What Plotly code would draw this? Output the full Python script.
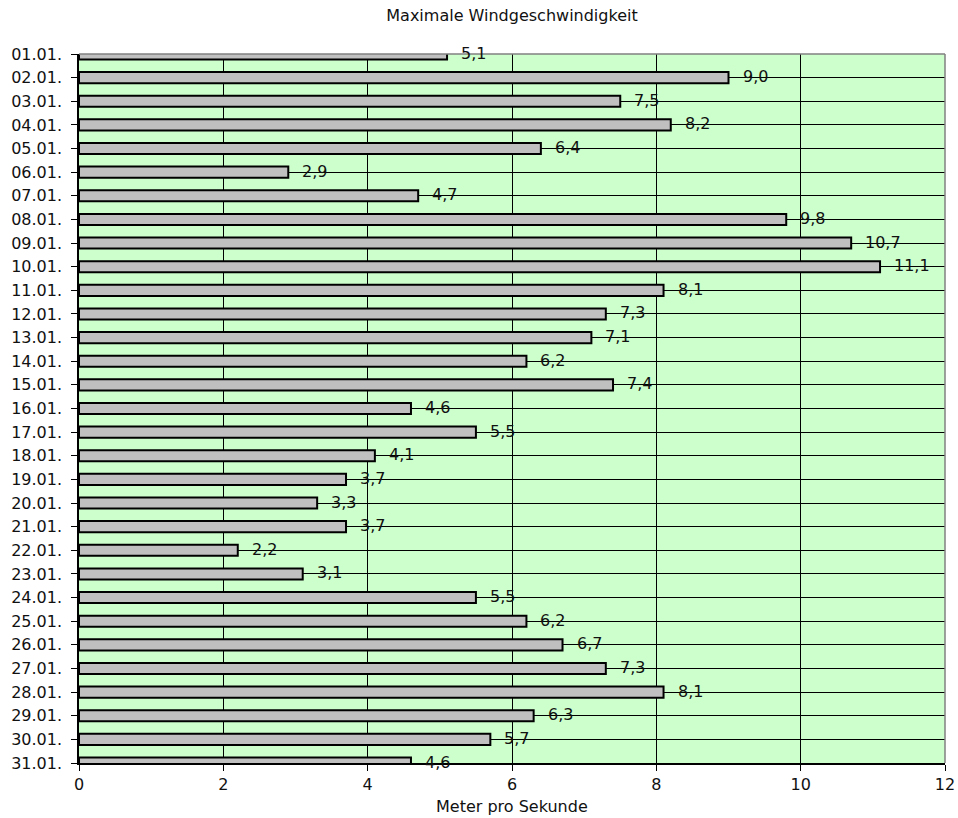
import plotly.graph_objects as go

days = [f"{d:02d}.01." for d in range(1, 32)]
speeds = [5.1, 9.0, 7.5, 8.2, 6.4, 2.9, 4.7, 9.8, 10.7, 11.1, 8.1, 7.3, 7.1, 6.2, 7.4,
          4.6, 5.5, 4.1, 3.7, 3.3, 3.7, 2.2, 3.1, 5.5, 6.2, 6.7, 7.3, 8.1, 6.3, 5.7, 4.6]
labels = [f"{v:.1f}".replace(".", ",") for v in speeds]
x_ticks = [0, 2, 4, 6, 8, 10, 12]

FONT = "DejaVu Sans"
FS = 16

fig = go.Figure()
fig.add_trace(go.Bar(
    x=speeds, y=days, orientation="h",
    marker=dict(color="#C0C0C0", line=dict(color="black", width=2)),
    width=0.47,
    hoverinfo="x+y",
))

for v, d, t in zip(speeds, days, labels):
    fig.add_annotation(x=v, y=d, text=t, showarrow=False, xanchor="left",
                       yanchor="middle", xshift=12, yshift=1,
                       font=dict(family=FONT, size=FS, color="#111111"))

fig.add_annotation(xref="paper", yref="paper", x=0.5, y=0, yshift=-43,
                   text="Meter pro Sekunde", showarrow=False, yanchor="middle",
                   font=dict(family=FONT, size=FS, color="#111111"))

# grey top and right frame
fig.add_shape(type="line", xref="paper", yref="paper", x0=0, x1=1, y0=1, y1=1,
              line=dict(color="#808080", width=1.5))
fig.add_shape(type="line", xref="paper", yref="paper", x0=1, x1=1, y0=0, y1=1,
              line=dict(color="#808080", width=1.5))

fig.update_layout(
    width=958, height=818,
    margin=dict(l=79, r=13, t=54, b=55, autoexpand=False),
    paper_bgcolor="white",
    plot_bgcolor="#CCFFCC",
    showlegend=False,
    font=dict(family=FONT, size=FS, color="#111111"),
    title=dict(text="Maximale Windgeschwindigkeit", x=0.5, xref="paper",
               y=1 - 15 / 818, yref="container", yanchor="middle", automargin=False,
               font=dict(family=FONT, size=FS, color="#111111")),
)
fig.update_xaxes(range=[0, 12], tickvals=x_ticks, ticktext=[str(v) for v in x_ticks],
                 showgrid=True, gridcolor="black", gridwidth=1,
                 showline=True, linecolor="black", linewidth=1.5,
                 ticks="outside", ticklen=6, tickcolor="black", automargin=False,
                 zeroline=False, tickfont=dict(size=FS))
fig.update_yaxes(type="category", range=[30, 0], categoryorder="array",
                 categoryarray=days, automargin=False,
                 showgrid=True, gridcolor="black", gridwidth=1,
                 showline=True, linecolor="black", linewidth=1.5,
                 ticks="outside", ticklen=6, tickcolor="black",
                 ticklabelstandoff=6, tickfont=dict(size=FS))

fig.write_html("out.html", config={"displayModeBar": False},
               post_script="document.body.style.margin='0';document.body.style.overflow='hidden';")
